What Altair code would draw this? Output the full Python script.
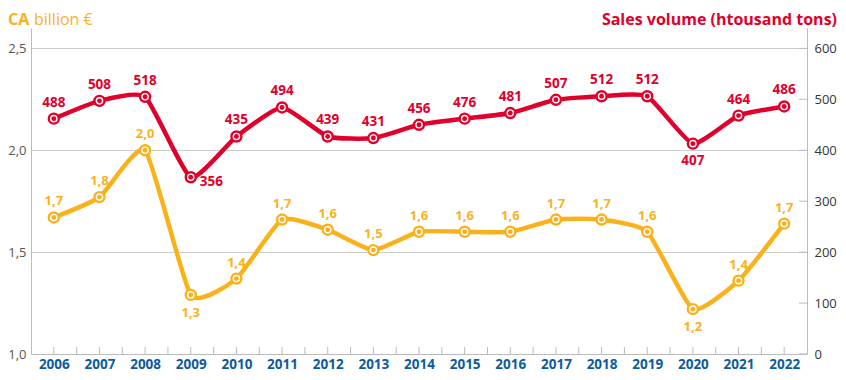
import altair as alt
import pandas as pd

# ---- data ----
years = list(range(2006, 2023))
ca_values = [1.67, 1.77, 2.00, 1.29, 1.37, 1.66, 1.61, 1.51, 1.60, 1.60, 1.60, 1.66, 1.66, 1.60, 1.22, 1.36, 1.64]
ca_labels = ["1,7", "1,8", "2,0", "1,3", "1,4", "1,7", "1,6", "1,5", "1,6", "1,6", "1,6", "1,7", "1,7", "1,6", "1,2", "1,4", "1,7"]
volume_values = [462, 497, 505, 347, 427, 484, 427, 424, 450, 462, 473, 499, 506, 506, 413, 468, 486]
volume_labels = ["488", "508", "518", "356", "435", "494", "439", "431", "456", "476", "481", "507", "512", "512", "407", "464", "486"]
ca_ticks = [1.0, 1.5, 2.0, 2.5]
volume_ticks = [0, 100, 200, 300, 400, 500, 600]
x_tick_years = [y + h for y in years for h in (0.0, 0.5)][:-1]

RED = "#e0002b"
ORANGE = "#f9b21b"
BLUE = "#0b5c9e"
GRAY = "#bbbbbb"
FONT = "Open Sans"
W, H = 776, 326
TENSION = 0.5

df = pd.DataFrame({
    "year": years,
    "ca": ca_values,
    "ca_label": ca_labels,
    "vol": volume_values,
    "vol_label": volume_labels,
})

x_scale = alt.Scale(domain=[2005.5, 2022.5], nice=False, zero=False)
x_enc = alt.X(
    "year:Q", scale=x_scale,
    axis=alt.Axis(values=years, format="d", title=None, ticks=False, grid=False,
                  domainColor=GRAY, labelColor=BLUE, labelFontWeight="bold",
                  labelFontSize=13.5, labelFont=FONT, labelPadding=3, labelFlush=False),
)

yl_scale = alt.Scale(domain=[1.0, 2.6], nice=False, zero=False)
yl_axis = alt.Axis(values=ca_ticks, labelExpr="replace(format(datum.value, '.1f'), '.', ',')",
                   title=None, ticks=False, grid=True, gridColor="#cccccc", domainColor=GRAY,
                   labelColor="#555555", labelFontSize=13, labelFont=FONT, labelPadding=5,
                   labelFlush=False)
yl = alt.Y("ca:Q", scale=yl_scale, axis=yl_axis)

yr_scale = alt.Scale(domain=[0, 640], nice=False, zero=True)
yr_axis = alt.Axis(orient="right", values=volume_ticks, format="d", title=None, ticks=False,
                   grid=False, domainColor=GRAY, labelColor="#333333", labelFontSize=13,
                   labelFont=FONT, labelPadding=7, labelFlush=False)
yr = alt.Y("vol:Q", scale=yr_scale, axis=yr_axis)

base = alt.Chart(df)

# ---- CA (left axis) ----
ca_line = base.mark_line(color=ORANGE, strokeWidth=4.5, interpolate="cardinal", tension=TENSION).encode(x=x_enc, y=yl)
ca_ring = base.mark_point(filled=True, fill="white", stroke=ORANGE, strokeWidth=2.4, size=100, opacity=1).encode(x=x_enc, y=yl)
ca_dot = base.mark_circle(color=ORANGE, size=24, opacity=1).encode(x=x_enc, y=yl)
ca_above = base.transform_filter(
    ~alt.FieldOneOfPredicate(field="year", oneOf=[2009, 2020])
).mark_text(color=ORANGE, font=FONT, fontSize=13, fontWeight="bold", dy=-16).encode(x=x_enc, y=yl, text="ca_label:N")
ca_below = base.transform_filter(
    alt.FieldOneOfPredicate(field="year", oneOf=[2009, 2020])
).mark_text(color=ORANGE, font=FONT, fontSize=13, fontWeight="bold", dy=18).encode(x=x_enc, y=yl, text="ca_label:N")

x_ticks = alt.Chart(pd.DataFrame({"year": x_tick_years})).mark_rule(color=GRAY, strokeWidth=1).encode(
    x=x_enc, y=alt.value(H - 7), y2=alt.value(H)
)

TY = -3
title_left_a = alt.Chart(pd.DataFrame({"t": ["CA"]})).mark_text(
    color=ORANGE, font=FONT, fontSize=16, fontWeight="bold", align="left", baseline="alphabetic"
).encode(x=alt.value(-23), y=alt.value(TY), text="t:N")
title_left_b = alt.Chart(pd.DataFrame({"t": ["billion €"]})).mark_text(
    color=ORANGE, font=FONT, fontSize=16, align="left", baseline="alphabetic"
).encode(x=alt.value(3), y=alt.value(TY), text="t:N")
title_right = alt.Chart(pd.DataFrame({"t": ["Sales volume (htousand tons)"]})).mark_text(
    color=RED, font=FONT, fontSize=16, fontWeight="bold", align="right", baseline="alphabetic"
).encode(x=alt.value(W + 30), y=alt.value(TY), text="t:N")

left = alt.layer(ca_line, x_ticks, ca_ring, ca_dot, ca_above, ca_below,
                 title_left_a, title_left_b, title_right)

# ---- Sales volume (right axis) ----
vol_line = base.mark_line(color=RED, strokeWidth=4.5, interpolate="cardinal", tension=TENSION).encode(x=x_enc, y=yr)
vol_ring = base.mark_point(filled=True, fill="white", stroke=RED, strokeWidth=2.4, size=100, opacity=1).encode(x=x_enc, y=yr)
vol_dot = base.mark_circle(color=RED, size=24, opacity=1).encode(x=x_enc, y=yr)
vol_above = base.transform_filter(
    ~alt.FieldOneOfPredicate(field="year", oneOf=[2009, 2020])
).mark_text(color=RED, font=FONT, fontSize=13.5, fontWeight="bold", dy=-16).encode(x=x_enc, y=yr, text="vol_label:N")
vol_below = base.transform_filter(
    alt.FieldEqualPredicate(field="year", equal=2020)
).mark_text(color=RED, font=FONT, fontSize=13.5, fontWeight="bold", dy=17).encode(x=x_enc, y=yr, text="vol_label:N")
vol_right = base.transform_filter(
    alt.FieldEqualPredicate(field="year", equal=2009)
).mark_text(color=RED, font=FONT, fontSize=13.5, fontWeight="bold", align="left", dx=9, dy=5).encode(x=x_enc, y=yr, text="vol_label:N")

y_ticks = alt.Chart(pd.DataFrame({"vol": volume_ticks})).mark_rule(color=GRAY, strokeWidth=1).encode(
    y=yr, x=alt.value(W - 8), x2=alt.value(W)
)

right = alt.layer(vol_line, y_ticks, vol_ring, vol_dot, vol_above, vol_below, vol_right)

chart = alt.layer(left, right).resolve_scale(y="independent").properties(
    width=W, height=H,
    autosize=alt.AutoSizeParams(type="none"),
    padding={"left": 23, "top": 20, "right": 31, "bottom": 18},
).configure_view(stroke=None)

chart.save("out.html", embed_options={"renderer": "svg", "actions": False})
